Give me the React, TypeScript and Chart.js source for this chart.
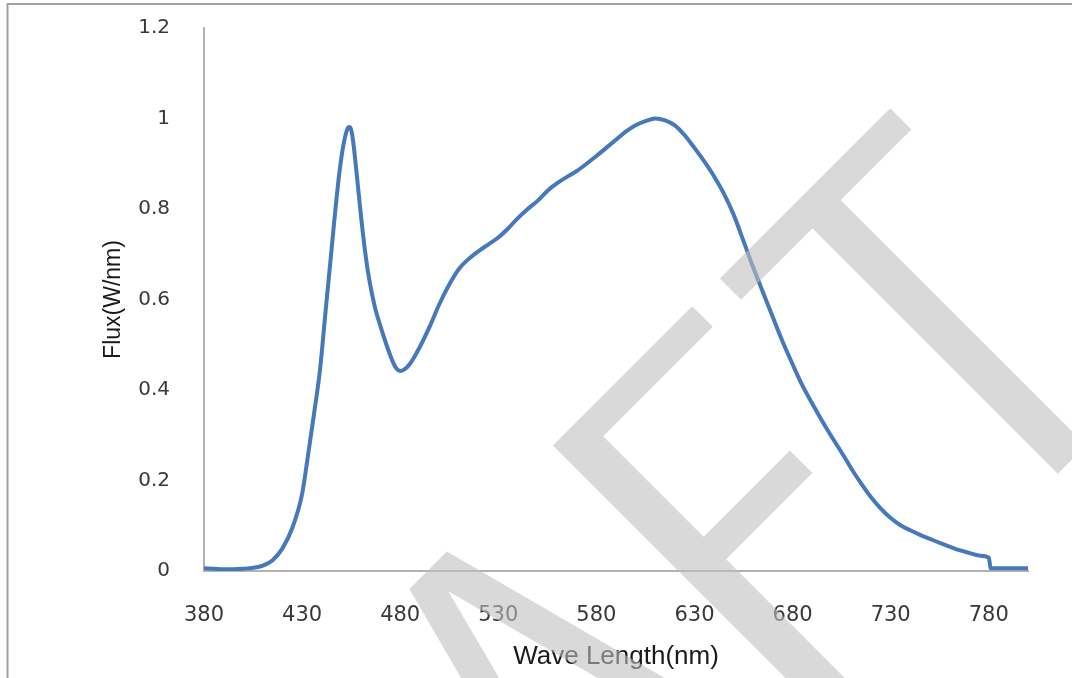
import React, { useEffect, useRef } from "react";
import { Chart, registerables } from "chart.js";

Chart.register(...registerables);

// ---- data ----
const wavelengths = [
  380, 385, 390, 395, 400, 405, 410, 415, 420, 425, 430, 433, 436, 439, 442, 445, 447, 449, 451, 453,
  454, 455, 456, 458, 460, 462, 464, 467, 470, 473, 476, 478, 480, 482, 485, 490, 495, 500, 505, 510,
  515, 520, 525, 530, 535, 540, 545, 550, 555, 560, 565, 570, 575, 580, 585, 590, 595, 600, 605, 610,
  615, 620, 625, 630, 635, 640, 645, 650, 655, 660, 665, 670, 675, 680, 685, 690, 695, 700, 705, 710,
  715, 720, 725, 730, 735, 740, 745, 750, 755, 760, 765, 770, 775, 780, 781, 785, 790, 795, 800,
];
const flux = [
  0.006, 0.005, 0.004, 0.004, 0.005, 0.007, 0.012, 0.024, 0.05, 0.095, 0.17, 0.255, 0.345, 0.44, 0.575, 0.71, 0.8, 0.88, 0.94, 0.976,
  0.981, 0.975, 0.95, 0.87, 0.785, 0.71, 0.65, 0.585, 0.54, 0.5, 0.465, 0.448, 0.442, 0.445, 0.458, 0.495, 0.54, 0.59, 0.633, 0.668,
  0.69, 0.707, 0.722, 0.737, 0.757, 0.78, 0.8, 0.818, 0.84, 0.857, 0.871, 0.884, 0.9, 0.917, 0.935, 0.953, 0.971, 0.985, 0.994, 1.0,
  0.996, 0.985, 0.963, 0.935, 0.905, 0.872, 0.834, 0.787, 0.729, 0.67, 0.615, 0.56, 0.506, 0.457, 0.41, 0.37, 0.332, 0.296, 0.262, 0.226,
  0.193, 0.163, 0.138, 0.117, 0.101, 0.09, 0.08, 0.071, 0.062, 0.054, 0.046, 0.04, 0.034, 0.03, 0.006, 0.006, 0.006, 0.006, 0.006,
];
const xTickValues = [380, 430, 480, 530, 580, 630, 680, 730, 780];
const yTickValues = [0, 0.2, 0.4, 0.6, 0.8, 1, 1.2];
const xTitle = "Wave Length(nm)";
const yTitle = "Flux(W/nm)";

// ---- decoration: "DRAFT" watermark strokes in a 45° rotated frame (u along text, v down) ----
const wmRects: number[][] = [
  [312, 706, 553, 736], // T bar
  [413, 706, 453, 1083], // T stem
  [76, 706, 118, 1083], // F stem
  [76, 706, 273, 735], // F top bar
  [76, 877, 240, 909], // F middle bar
];
const wmPolys: number[][][] = [
  [[-127, 706], [-74, 706], [26, 1083], [-9, 1083], [-101, 735], [-192, 1083], [-227, 1083]], // A
];

const decorPlugin = {
  id: "decor",
  beforeDraw(chart: any) {
    const ctx = chart.ctx as CanvasRenderingContext2D;
    ctx.save();
    ctx.fillStyle = "#ffffff";
    ctx.fillRect(0, 0, chart.width, chart.height);
    ctx.strokeStyle = "#a2a2a2";
    ctx.lineWidth = 2;
    ctx.beginPath();
    ctx.moveTo(7.5, chart.height);
    ctx.lineTo(7.5, 4);
    ctx.lineTo(chart.width, 4);
    ctx.stroke();
    ctx.restore();
  },
  afterDraw(chart: any) {
    const ctx = chart.ctx as CanvasRenderingContext2D;
    const k = Math.SQRT1_2;
    ctx.save();
    ctx.transform(k, -k, k, k, 0, 0);
    ctx.beginPath();
    for (const [u0, v0, u1, v1] of wmRects) ctx.rect(u0, v0, u1 - u0, v1 - v0);
    for (const poly of wmPolys) {
      poly.forEach(([u, v], i) => (i === 0 ? ctx.moveTo(u, v) : ctx.lineTo(u, v)));
      ctx.closePath();
    }
    ctx.fillStyle = "rgba(190,190,190,0.59)";
    ctx.fill("nonzero");
    ctx.restore();
  },
};

export default function App() {
  const canvasRef = useRef<HTMLCanvasElement | null>(null);

  useEffect(() => {
    document.body.style.margin = "0";
    const canvas = canvasRef.current;
    if (!canvas) return;
    const points = wavelengths.map((w, i) => ({ x: w, y: flux[i] }));
    const chart = new Chart(canvas, {
      type: "line",
      data: {
        datasets: [
          {
            data: points,
            borderColor: "#4579ba",
            borderWidth: 4,
            pointRadius: 0,
            cubicInterpolationMode: "monotone",
            fill: false,
          },
        ],
      },
      options: {
        animation: false,
        responsive: true,
        maintainAspectRatio: false,
        layout: { padding: { top: 28, right: 44, bottom: 0, left: 0 } },
        plugins: {
          legend: { display: false },
          tooltip: { enabled: false },
        },
        scales: {
          x: {
            type: "linear",
            min: 380,
            max: 800,
            afterBuildTicks: (s: any) => {
              s.ticks = xTickValues.map((v) => ({ value: v }));
            },
            afterFit: (s: any) => {
              s.height = 107;
              s.paddingLeft = 0;
              s.paddingRight = 0;
            },
            grid: { display: false },
            border: { display: true, color: "#b2b2b2", width: 2 },
            ticks: {
              autoSkip: false,
              maxRotation: 0,
              padding: 24,
              color: "#383838",
              font: { family: "'DejaVu Sans'", size: 21 },
              callback: (v: any) => String(v),
            },
            title: {
              display: true,
              text: xTitle,
              color: "#1a1a1a",
              font: { family: "'Liberation Sans', Arial", size: 26 },
              padding: { top: 0, bottom: 6 },
            },
          },
          y: {
            type: "linear",
            min: 0,
            max: 1.2,
            afterBuildTicks: (s: any) => {
              s.ticks = yTickValues.map((v) => ({ value: v }));
            },
            afterFit: (s: any) => {
              s.width = 204;
              s.paddingTop = 0;
              s.paddingBottom = 0;
            },
            grid: { display: false },
            border: { display: true, color: "#b2b2b2", width: 2 },
            ticks: {
              padding: 26,
              color: "#383838",
              font: { family: "'DejaVu Sans'", size: 20 },
              callback: (v: any) => String(Math.round(Number(v) * 10) / 10),
            },
            title: {
              display: true,
              text: yTitle,
              color: "#1a1a1a",
              font: { family: "'Liberation Sans', Arial", size: 23 },
              padding: { top: 100, bottom: 0 },
            },
          },
        },
      } as any,
      plugins: [decorPlugin],
    });
    return () => chart.destroy();
  }, []);

  return (
    <div style={{ position: "relative", width: 1072, height: 678 }}>
      <canvas ref={canvasRef} />
    </div>
  );
}
